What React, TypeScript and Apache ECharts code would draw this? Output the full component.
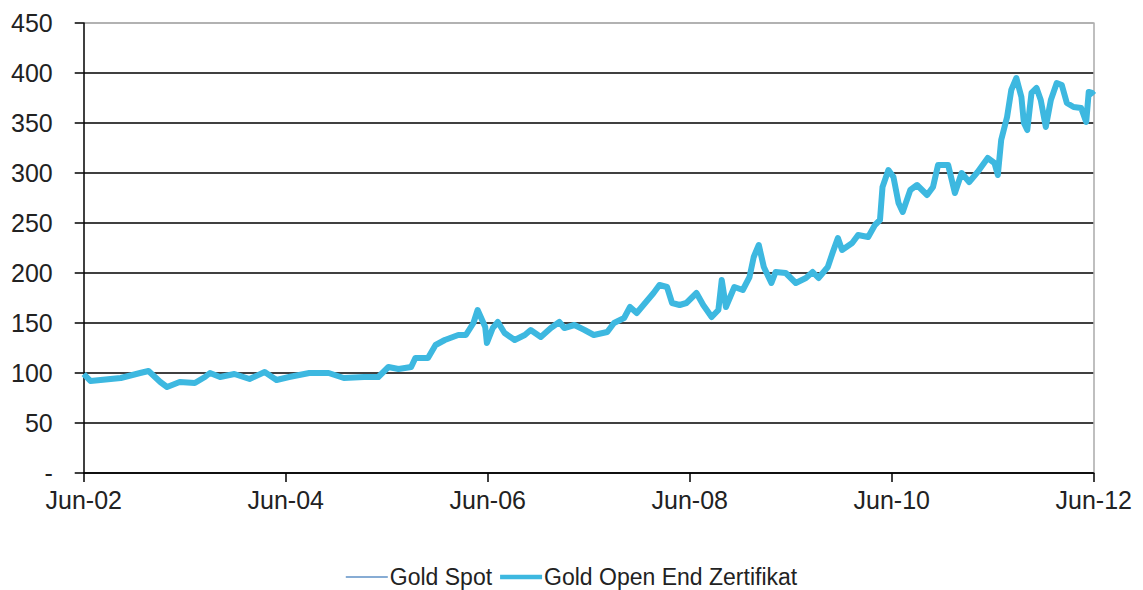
import React, { useEffect, useRef } from "react";
import * as echarts from "echarts";

// x = months since Jun-02, y = index value
const monthsSinceJun02 = [
  0, 0.8, 2.0, 4.4, 6.7, 7.7, 9.1, 9.9, 11.4, 13.2, 14.4, 15.0, 16.2, 17.9, 19.7, 21.5, 22.9,
  24.4, 26.8, 29.1, 30.9, 33.3, 35.0, 36.2, 37.4, 38.9, 39.4, 40.9, 41.8, 42.9, 44.5, 45.4,
  46.3, 46.8, 47.7, 47.9, 48.6, 49.2, 50.0, 51.2, 52.4, 53.1, 54.3, 55.5, 56.5, 57.1, 58.3,
  59.5, 60.6, 62.2, 63.0, 64.2, 64.9, 65.7, 66.5, 67.7, 68.4, 69.3, 69.9, 70.8, 71.6, 72.8,
  73.6, 74.6, 75.4, 75.8, 76.3, 77.3, 78.3, 79.1, 79.6, 80.2, 80.8, 81.7, 82.2, 83.4, 84.6,
  85.8, 86.6, 87.3, 88.4, 89.0, 89.6, 90.1, 91.3, 92.0, 93.2, 94.0, 94.6, 94.9, 95.6, 96.2,
  96.8, 97.3, 98.2, 99.0, 100.2, 100.9, 101.5, 102.7, 103.5, 104.3, 105.2, 106.2, 107.4,
  108.2, 108.6, 109.0, 109.7, 110.2, 110.8, 111.4, 111.7, 112.1, 112.6, 113.2, 113.7, 114.3,
  114.9, 115.6, 116.2, 116.8, 117.6, 118.5, 119.1, 119.4, 119.8, 120,
];

const zertifikatValues = [
  99, 92, 93, 95, 100, 102, 91, 86, 91, 90, 96, 100, 96, 99, 94, 101, 93,
  96, 100, 100, 95, 96, 96, 106, 104, 106, 115, 115, 128, 133, 138, 138,
  150, 163, 146, 130, 145, 151, 140, 133, 138, 143, 136, 145, 151, 145, 148,
  143, 138, 141, 150, 155, 166, 160, 168, 180, 188, 186, 170, 168, 170, 180,
  168, 156, 163, 193, 166, 186, 183, 196, 216, 228, 206, 190, 201, 200, 190,
  195, 201, 195, 206, 221, 235, 223, 230, 238, 236, 248, 253, 286, 303, 296,
  270, 261, 283, 288, 278, 286, 308, 308, 280, 300, 291, 301, 315,
  310, 298, 333, 356, 383, 395, 376, 350, 343, 380, 385, 373, 346,
  373, 390, 388, 370, 366, 365, 351, 381, 380, 378,
];

// Gold Spot runs underneath the certificate line (same path in the picture)
const spotValues = zertifikatValues.slice();

const yTicks = { min: 0, max: 450, interval: 50 };
const xTicks = { min: 0, max: 120, interval: 24 };

const seriesNames = ["Gold Spot", "Gold Open End Zertifikat"];

export default function App() {
  const ref = useRef<HTMLDivElement>(null);

  useEffect(() => {
    if (!ref.current) return;
    const chart = echarts.init(ref.current, null, { renderer: "svg" });
    const font = "Liberation Sans, Arial, sans-serif";
    const zData = monthsSinceJun02.map((m, i) => [m, zertifikatValues[i]]);
    const sData = monthsSinceJun02.map((m, i) => [m, spotValues[i]]);
    const gridColors = ["#000", "#000", "#000", "#000", "#000", "#000", "#000", "#000", "#000", "#999"];

    chart.setOption({
      animation: false,
      backgroundColor: "#fff",
      grid: { left: 75, right: 35, top: 15, bottom: 117, containLabel: false },
      xAxis: {
        type: "value",
        min: xTicks.min,
        max: xTicks.max,
        interval: xTicks.interval,
        axisLine: { lineStyle: { color: "#000", width: 1.5 } },
        axisTick: { show: true, length: 9, lineStyle: { color: "#000", width: 1.5 } },
        splitLine: { show: false },
        axisLabel: {
          color: "#222",
          fontFamily: font,
          fontSize: 25,
          margin: 14,
          formatter: (v: number) => "Jun-" + String(2 + v / 12).padStart(2, "0"),
        },
      },
      yAxis: [
        {
          type: "value",
          min: yTicks.min,
          max: yTicks.max,
          interval: yTicks.interval,
          axisLine: { show: true, lineStyle: { color: "#000", width: 1.5 } },
          axisTick: { show: true, length: 9, lineStyle: { color: "#000", width: 1.5 } },
          splitLine: { show: true, lineStyle: { color: gridColors, width: 1.5 } },
          axisLabel: {
            color: "#222",
            fontFamily: font,
            fontSize: 25,
            margin: 31,
            formatter: (v: number) => (v === 0 ? "-" : String(v)),
          },
        },
        {
          type: "value",
          position: "right",
          min: yTicks.min,
          max: yTicks.max,
          interval: yTicks.interval,
          axisLine: { show: true, lineStyle: { color: "#aaa", width: 1.5 } },
          axisTick: { show: false },
          axisLabel: { show: false },
          splitLine: { show: false },
        },
      ],
      legend: {
        top: 557,
        left: "center",
        itemWidth: 42,
        itemHeight: 14,
        itemGap: 8,
        padding: 0,
        textStyle: { fontFamily: font, fontSize: 23, lineHeight: 24, color: "#222", padding: [0, 0, 0, -3] },
        data: [
          { name: seriesNames[0], icon: "path://M0,6.2 L40,6.2 L40,7.8 L0,7.8 Z", itemStyle: { color: "#5f90c6" } },
          { name: seriesNames[1], icon: "path://M0,4.8 L40,4.8 L40,9.2 L0,9.2 Z", itemStyle: { color: "#3db8e0" } },
        ],
      },
      series: [
        {
          name: seriesNames[0],
          type: "line",
          data: sData,
          showSymbol: false,
          symbol: "none",
          lineStyle: { color: "#5f90c6", width: 1.5 },
          itemStyle: { color: "#5f90c6" },
          z: 2,
        },
        {
          name: seriesNames[1],
          type: "line",
          data: zData,
          showSymbol: false,
          symbol: "none",
          lineStyle: { color: "#3db8e0", width: 6, join: "round" },
          itemStyle: { color: "#3db8e0" },
          z: 3,
        },
      ],
    });
    return () => chart.dispose();
  }, []);

  return <div ref={ref} style={{ width: 1127, height: 582 }} />;
}
